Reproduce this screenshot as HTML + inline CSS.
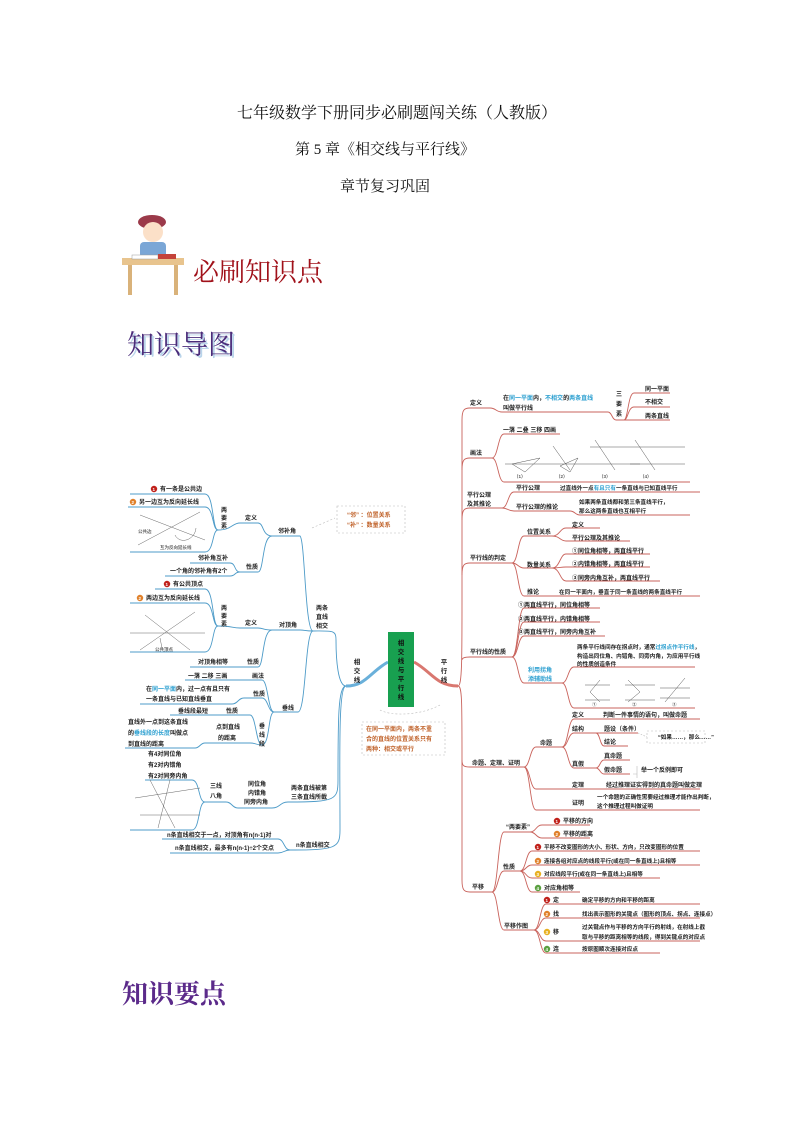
<!DOCTYPE html>
<html><head><meta charset="utf-8">
<style>
html,body{margin:0;padding:0;background:#fff;}
body{width:794px;height:1123px;position:relative;overflow:hidden;font-family:"Liberation Serif","Noto Serif CJK SC","Noto Sans CJK SC",serif;}
.t{position:absolute;left:0;width:794px;text-align:center;color:#111;}
svg text{font-family:"Liberation Sans","Noto Sans CJK SC",sans-serif;}
.m text{font-weight:bold;}
</style></head><body>
<div class="t" style="top:100px;font-size:16px;">七年级数学下册同步必刷题闯关练（人教版）</div>
<div class="t" style="top:138px;font-size:15px;left:-12px;">第 5 章《相交线与平行线》</div>
<div class="t" style="top:175px;font-size:15px;left:-12px;">章节复习巩固</div>

<svg width="794" height="1123" style="position:absolute;left:0;top:0" xmlns="http://www.w3.org/2000/svg">
<g>
<ellipse cx="152" cy="222" rx="14" ry="7" fill="#9b3a4a"/>
<circle cx="153" cy="232" r="10" fill="#fbe0c8"/>
<rect x="140" y="242" width="26" height="16" rx="4" fill="#7aa6d6"/>
<rect x="122" y="258" width="62" height="7" fill="#e8c48e"/>
<rect x="128" y="265" width="4" height="30" fill="#d9b27a"/>
<rect x="174" y="265" width="4" height="30" fill="#d9b27a"/>
<rect x="132" y="255" width="26" height="4" fill="#fff" stroke="#999" stroke-width=".5"/>
<rect x="158" y="254" width="18" height="5" fill="#c4433a"/>
</g>
<text x="193" y="281" font-size="26" fill="#a0111a" style="font-family:'Noto Serif CJK SC',serif">必刷知识点</text>
<text x="129" y="356" font-size="27" fill="#b9d4ea" style="font-family:'Noto Serif CJK SC',serif">知识导图</text>
<text x="127" y="354" font-size="27" fill="#4a2c7a" style="font-family:'Noto Serif CJK SC',serif">知识导图</text>
<text x="122" y="1003" font-size="26" fill="#5b2a8a" font-weight="bold" style="font-family:'Noto Serif CJK SC',serif">知识要点</text>

<g class="m">
<path d="M388 662 C370 672 366 686 346 686" stroke="#6ab0da" stroke-width="3" fill="none"/>
<path d="M414 662 C432 672 436 686 458 686" stroke="#d9776f" stroke-width="3" fill="none"/>
<rect x="388" y="632" width="26" height="75" fill="#18a050"/>
<g font-size="6.5" fill="#111" text-anchor="middle">
<text x="401" y="645">相</text><text x="401" y="654">交</text><text x="401" y="663">线</text><text x="401" y="672">与</text><text x="401" y="681">平</text><text x="401" y="690">行</text><text x="401" y="699">线</text>
</g>
<g font-size="6.5" fill="#222" text-anchor="middle">
<text x="357" y="664">相</text><text x="357" y="673">交</text><text x="357" y="682">线</text>
<text x="444" y="664">平</text><text x="444" y="673">行</text><text x="444" y="682">线</text>
</g>
<rect x="337" y="506" width="68" height="27" fill="none" stroke="#bbb" stroke-dasharray="2,2" stroke-width=".6"/>
<g font-size="6" fill="#c0622a"><text x="347" y="517">“邻” ：位置关系</text><text x="347" y="527">“补” ：数量关系</text></g>
<path d="M312 528 L335 518" stroke="#bbb" stroke-dasharray="2,2" stroke-width=".6" fill="none"/>
<rect x="362" y="722" width="83" height="33" fill="none" stroke="#bbb" stroke-dasharray="2,2" stroke-width=".6"/>
<g font-size="6" fill="#c0622a"><text x="366" y="731">在同一平面内，两条不重</text><text x="366" y="741">合的直线的位置关系只有</text><text x="366" y="751">两种：相交或平行</text></g>
<path d="M380 710 C390 716 420 716 440 705" stroke="#bbb" stroke-dasharray="2,2" stroke-width=".6" fill="none"/>

<g stroke="#4d9bc8" stroke-width="0.9" fill="none">
<path d="M346 686 C338 686 336 660 336 640 C336 630 333 631 313 631"/>
<path d="M346 686 C338 686 338 720 338 780 C338 800 336 802 288 802"/>
<path d="M346 686 C338 686 340 760 340 830 C340 848 336 850 290 850"/>
<path d="M313 631 C305 631 305 540 300 536 L272 536"/>
<path d="M313 631 C305 631 305 630 300 630 L272 630"/>
<path d="M313 631 C305 631 306 712 298 712 L274 712"/>
<path d="M272 536 C262 536 264 523 258 523 L240 523"/>
<path d="M272 536 C262 536 264 572 258 572 L240 572"/>
<path d="M240 523 C232 523 232 530 218 530"/>
<path d="M218 530 C212 530 214 494 205 494 L130 494"/>
<path d="M218 530 C212 530 214 507 205 507 L128 507"/>
<path d="M218 530 C212 530 214 552 205 552 L130 552"/>
<path d="M240 572 C234 572 236 563 230 563 L190 563"/>
<path d="M240 572 C234 572 236 576 230 576 L165 576"/>
<path d="M272 630 C262 630 264 628 258 628 L240 628"/>
<path d="M272 630 C262 630 264 667 258 667 L190 667"/>
<path d="M240 628 C232 628 232 626 218 626"/>
<path d="M218 626 C212 626 214 589 205 589 L155 589"/>
<path d="M218 626 C212 626 214 603 205 603 L130 603"/>
<path d="M218 626 C212 626 214 652 205 652 L130 652"/>
<path d="M274 712 C268 712 268 680 262 680 L185 680"/>
<path d="M274 712 C268 712 268 698 262 698 L244 698 C238 698 238 704 232 704 L140 704"/>
<path d="M274 712 C268 712 270 745 262 745"/>
<path d="M262 745 C256 745 256 715 250 715 L170 715"/>
<path d="M262 745 C256 745 256 743 250 743 L205 743 C200 743 200 748 195 748 L125 748"/>
<path d="M288 802 C280 802 280 808 272 808 L238 808"/>
<path d="M238 808 C232 808 232 802 226 802 L205 802"/>
<path d="M205 802 C198 802 200 780 192 780 L145 780"/>
<path d="M205 802 C198 802 200 830 192 830 L130 830"/>
<path d="M290 850 C284 850 284 839 278 839 L162 839"/>
<path d="M290 850 C284 850 284 853 278 853 L170 853"/>
</g>
<g font-size="6" fill="#222">
<circle cx="154" cy="489" r="3.2" fill="#c0201a"/><text x="152.5" y="491" fill="#fff" font-size="4.5">1</text>
<text x="160" y="491">有一条是公共边</text>
<circle cx="133" cy="502" r="3.2" fill="#e0802a"/><text x="131.5" y="504" fill="#fff" font-size="4.5">2</text>
<text x="139" y="504">另一边互为反向延长线</text>
<text x="221" y="512">两</text><text x="221" y="520">要</text><text x="221" y="528">素</text>
<text x="245" y="520">定义</text>
<text x="278" y="533">邻补角</text>
<text x="198" y="560">邻补角互补</text><text x="246" y="569">性质</text>
<text x="170" y="573">一个角的邻补角有2个</text>
<circle cx="167" cy="584" r="3.2" fill="#c0201a"/><text x="165.5" y="586" fill="#fff" font-size="4.5">1</text>
<text x="173" y="586">有公共顶点</text>
<circle cx="140" cy="598" r="3.2" fill="#e0802a"/><text x="138.5" y="600" fill="#fff" font-size="4.5">2</text>
<text x="146" y="600">两边互为反向延长线</text>
<text x="221" y="610">两</text><text x="221" y="618">要</text><text x="221" y="626">素</text>
<text x="245" y="625">定义</text>
<text x="279" y="627">对顶角</text>
<text x="316" y="610">两条</text><text x="316" y="619">直线</text><text x="316" y="628">相交</text>
<text x="198" y="664">对顶角相等</text><text x="247" y="664">性质</text>
<text x="188" y="678">一落  二移  三画</text><text x="252" y="678">画法</text>
<text x="146" y="691">在<tspan fill="#2b9fd0">同一平面</tspan>内，过一点有且只有</text>
<text x="146" y="701">一条直线与已知直线垂直</text><text x="253" y="696">性质</text>
<text x="178" y="713">垂线段最短</text><text x="226" y="713">性质</text>
<text x="282" y="710">垂线</text>
<text x="259" y="728">垂</text><text x="259" y="737">线</text><text x="259" y="746">段</text>
<text x="128" y="724">直线外一点到这条直线</text>
<text x="128" y="735">的<tspan fill="#2b9fd0">垂线段的长度</tspan>叫做点</text>
<text x="128" y="746">到直线的距离</text>
<text x="216" y="729">点到直线</text><text x="218" y="740">的距离</text>
<text x="148" y="756">有4对同位角</text><text x="148" y="767">有2对内错角</text><text x="148" y="778">有2对同旁内角</text>
<text x="210" y="788">三线</text><text x="210" y="798">八角</text>
<text x="248" y="786">同位角</text><text x="248" y="795">内错角</text><text x="244" y="804">同旁内角</text>
<text x="291" y="790">两条直线被第</text><text x="291" y="799">三条直线所截</text>
<text x="167" y="837">n条直线相交于一点，对顶角有n(n-1)对</text>
<text x="175" y="850">n条直线相交，最多有n(n-1)÷2个交点</text>
<text x="296" y="847">n条直线相交</text>
</g>
<g stroke="#666" stroke-width=".5" fill="none">
<path d="M140 515 L205 540"/><path d="M138 545 L200 512"/><path d="M175 535 C180 545 195 540 196 528"/>
<path d="M130 633 L205 633"/><path d="M140 650 L195 612"/><path d="M145 615 L190 650"/><path d="M160 638 L162 648"/>
<path d="M135 798 L200 788"/><path d="M140 815 L200 815"/><path d="M150 780 L175 828"/><path d="M170 780 L158 828"/>
</g>
<g font-size="4.5" fill="#666"><text x="138" y="533">公共边</text><text x="160" y="549">互为反向延长线</text><text x="155" y="651">公共顶点</text></g>

<g stroke="#c9635c" stroke-width="0.9" fill="none">
<path d="M458 686 C462 686 462 660 462 600 L462 420 C462 410 464 408 470 408 L490 408"/>
<path d="M462 470 C462 460 464 458 470 458 L492 458"/>
<path d="M462 520 C462 510 464 508 470 508 L502 508"/>
<path d="M462 575 C462 565 464 563 470 563 L512 563"/>
<path d="M462 660 C462 658 464 657 470 657 L512 657"/>
<path d="M458 686 C462 686 462 700 462 760 C462 766 464 767 470 767 L524 767"/>
<path d="M462 760 L462 880 C462 890 464 892 470 892 L492 892"/>
<path d="M490 408 C496 408 496 412 502 412 L608 412 C612 412 612 420 616 420 L624 420"/>
<path d="M624 420 C628 420 628 393 634 393 L670 393"/>
<path d="M624 420 C628 420 628 407 634 407 L670 407"/>
<path d="M624 420 C628 420 628 420 634 420 L670 420"/>
<path d="M492 458 C498 458 498 434 504 434 L560 434"/>
<path d="M492 458 C498 458 498 482 504 482 L690 482"/>
<path d="M502 508 C508 508 508 492 514 492 L700 492"/>
<path d="M502 508 C508 508 508 511 514 511 L570 511 C575 511 575 515 580 515 L690 515"/>
<path d="M512 563 C518 563 518 536 524 536 L552 536"/>
<path d="M552 536 C560 536 560 528 566 528 L600 528"/>
<path d="M552 536 C560 536 560 541 566 541 L630 541"/>
<path d="M512 563 C518 563 518 568 524 568 L552 568"/>
<path d="M552 568 C560 568 560 554 566 554 L650 554"/>
<path d="M552 568 C560 568 560 567 566 567 L650 567"/>
<path d="M552 568 C560 568 560 581 566 581 L660 581"/>
<path d="M512 563 C518 563 518 596 524 596 L700 596"/>
<path d="M512 657 C518 657 518 608 524 608 L600 608"/>
<path d="M512 657 C518 657 518 622 524 622 L600 622"/>
<path d="M512 657 C518 657 518 636 524 636 L605 636"/>
<path d="M512 657 C518 657 518 683 524 683 L562 683"/>
<path d="M562 683 C568 683 568 667 574 667 L695 667"/>
<path d="M562 683 C568 683 568 708 574 708 L695 708"/>
<path d="M524 767 C530 767 530 747 536 747 L562 747"/>
<path d="M562 747 C568 747 568 719 574 719 L700 719"/>
<path d="M562 747 C568 747 568 733 574 733 L596 733"/>
<path d="M596 733 C600 733 600 733 604 733 L638 733"/>
<path d="M596 733 C600 733 600 746 604 746 L628 746"/>
<path d="M562 747 C568 747 568 768 574 768 L596 768"/>
<path d="M596 768 C600 768 600 760 604 760 L630 760"/>
<path d="M596 768 C600 768 600 774 604 774 L630 774"/>
<path d="M524 767 C530 767 530 789 536 789 L700 789"/>
<path d="M524 767 C530 767 530 810 536 810 L700 810"/>
<path d="M492 892 C498 892 498 832 504 832 L530 832"/>
<path d="M530 832 C536 832 536 825 542 825 L590 825"/>
<path d="M530 832 C536 832 536 838 542 838 L590 838"/>
<path d="M492 892 C498 892 498 871 504 871 L520 871"/>
<path d="M520 871 C526 871 526 851 532 851 L700 851"/>
<path d="M520 871 C526 871 526 865 532 865 L700 865"/>
<path d="M520 871 C526 871 526 878 532 878 L660 878"/>
<path d="M520 871 C526 871 526 892 532 892 L580 892"/>
<path d="M492 892 C498 892 498 930 504 930 L534 930"/>
<path d="M534 930 C540 930 540 904 546 904 L700 904"/>
<path d="M534 930 C540 930 540 918 546 918 L700 918"/>
<path d="M534 930 C540 930 540 941 546 941 L700 941"/>
<path d="M534 930 C540 930 540 953 546 953 L660 953"/>
</g>
<g font-size="6" fill="#222">
<text x="470" y="405">定义</text>
<text x="503" y="400">在<tspan fill="#2b9fd0">同一平面</tspan>内，<tspan fill="#2b9fd0">不相交</tspan>的<tspan fill="#2b9fd0">两条直线</tspan></text>
<text x="503" y="410">叫做平行线</text>
<text x="616" y="396">三</text><text x="616" y="406">要</text><text x="616" y="416">素</text>
<text x="645" y="391">同一平面</text><text x="645" y="404">不相交</text><text x="645" y="418">两条直线</text>
<text x="503" y="432">一落  二叠  三移  四画</text>
<text x="470" y="455">画法</text>
<g font-size="4.5" fill="#555" font-weight="normal"><text x="514" y="478">（1）</text><text x="556" y="478">（2）</text><text x="599" y="478">（3）</text><text x="640" y="478">（4）</text></g>
<text x="467" y="497">平行公理</text><text x="467" y="506">及其推论</text>
<text x="516" y="490">平行公理</text>
<text x="560" y="490" font-size="5.6">过直线外一点<tspan fill="#2b9fd0">有且只有</tspan>一条直线与已知直线平行</text>
<text x="516" y="509">平行公理的推论</text>
<text x="579" y="504" font-size="5.6">如果两条直线都和第三条直线平行，</text>
<text x="579" y="513" font-size="5.6">那么这两条直线也互相平行</text>
<text x="527" y="534">位置关系</text>
<text x="572" y="527">定义</text><text x="572" y="540">平行公理及其推论</text>
<text x="470" y="560">平行线的判定</text>
<text x="527" y="567">数量关系</text>
<text x="572" y="553">①同位角相等，两直线平行</text>
<text x="572" y="566">②内错角相等，两直线平行</text>
<text x="572" y="580">③同旁内角互补，两直线平行</text>
<text x="527" y="594">推论</text>
<text x="559" y="594" font-size="5.6">在同一平面内，垂直于同一条直线的两条直线平行</text>
<text x="518" y="607">①两直线平行，同位角相等</text>
<text x="518" y="621">②两直线平行，内错角相等</text>
<text x="518" y="634">③两直线平行，同旁内角互补</text>
<text x="470" y="654">平行线的性质</text>
<text x="577" y="649" font-size="5.6">两条平行线间存在拐点时，通常<tspan fill="#2b9fd0">过拐点作平行线</tspan>，</text>
<text x="577" y="658" font-size="5.6">构造出同位角、内错角、同旁内角，为应用平行线</text>
<text x="577" y="666" font-size="5.6">的性质创造条件</text>
<text x="528" y="672" fill="#2b9fd0">利用拐角</text><text x="528" y="681" fill="#2b9fd0">添辅助线</text>
<g font-size="4.5" fill="#555" font-weight="normal"><text x="592" y="706">①</text><text x="632" y="706">②</text><text x="672" y="706">③</text></g>
<text x="472" y="765">命题、定理、证明</text>
<text x="572" y="717">定义</text><text x="603" y="717">判断一件事情的语句，叫做命题</text>
<text x="540" y="745">命题</text>
<text x="572" y="731">结构</text><text x="604" y="731">题设（条件）</text><text x="604" y="744">结论</text>
<text x="572" y="766">真假</text><text x="604" y="758">真命题</text><text x="604" y="772">假命题</text>
<text x="641" y="772">举一个反例即可</text>
<text x="572" y="787">定理</text><text x="606" y="787">经过推理证实得到的真命题叫做定理</text>
<text x="572" y="805">证明</text>
<text x="597" y="799" font-size="5.6">一个命题的正确性需要经过推理才能作出判断，</text>
<text x="597" y="808" font-size="5.6">这个推理过程叫做证明</text>
<text x="506" y="829">“两要素”</text>
<circle cx="557" cy="821" r="3.2" fill="#c0201a"/><text x="555.5" y="823" fill="#fff" font-size="4.5">1</text><text x="563" y="823">平移的方向</text>
<circle cx="557" cy="834" r="3.2" fill="#e0802a"/><text x="555.5" y="836" fill="#fff" font-size="4.5">2</text><text x="563" y="836">平移的距离</text>
<text x="503" y="869">性质</text>
<circle cx="538" cy="847" r="3.2" fill="#c0201a"/><text x="536.5" y="849" fill="#fff" font-size="4.5">1</text><text x="544" y="849" font-size="5.6">平移不改变图形的大小、形状、方向，只改变图形的位置</text>
<circle cx="538" cy="861" r="3.2" fill="#e0802a"/><text x="536.5" y="863" fill="#fff" font-size="4.5">2</text><text x="544" y="863" font-size="5.6">连接各组对应点的线段平行(或在同一条直线上)且相等</text>
<circle cx="538" cy="874" r="3.2" fill="#e8b020"/><text x="536.5" y="876" fill="#fff" font-size="4.5">3</text><text x="544" y="876" font-size="5.6">对应线段平行(或在同一条直线上)且相等</text>
<circle cx="538" cy="888" r="3.2" fill="#5aa040"/><text x="536.5" y="890" fill="#fff" font-size="4.5">4</text><text x="544" y="890">对应角相等</text>
<text x="472" y="889">平移</text>
<text x="504" y="928">平移作图</text>
<circle cx="547" cy="900" r="3.2" fill="#c0201a"/><text x="545.5" y="902" fill="#fff" font-size="4.5">1</text><text x="553" y="902">定</text>
<text x="582" y="902" font-size="5.6">确定平移的方向和平移的距离</text>
<circle cx="547" cy="914" r="3.2" fill="#e0802a"/><text x="545.5" y="916" fill="#fff" font-size="4.5">2</text><text x="553" y="916">找</text>
<text x="582" y="916" font-size="5.6">找出表示图形的关键点（图形的顶点、拐点、连接点）</text>
<circle cx="547" cy="932" r="3.2" fill="#e8b020"/><text x="545.5" y="934" fill="#fff" font-size="4.5">3</text><text x="553" y="934">移</text>
<text x="582" y="929" font-size="5.6">过关键点作与平移的方向平行的射线，在射线上截</text>
<text x="582" y="939" font-size="5.6">取与平移的距离相等的线段，得到关键点的对应点</text>
<circle cx="547" cy="949" r="3.2" fill="#5aa040"/><text x="545.5" y="951" fill="#fff" font-size="4.5">4</text><text x="553" y="951">连</text>
<text x="582" y="951" font-size="5.6">按原图顺次连接对应点</text>
</g>
<rect x="647" y="731" width="58" height="12" fill="none" stroke="#bbb" stroke-dasharray="2,2" stroke-width=".6"/>
<text x="658" y="739" font-size="5.6" fill="#222">“如果……，那么……”</text>
<path d="M638 733 L647 737" stroke="#bbb" stroke-dasharray="1.5,1.5" stroke-width=".6"/>
<path d="M633 774 L637 774 M637 766 L637 778" stroke="#bbb" stroke-width=".6"/>
<g stroke="#555" stroke-width=".5" fill="none">
<path d="M505 464 L545 464"/><path d="M512 464 L540 458 L525 472 Z"/>
<path d="M545 464 L590 464"/><path d="M553 446 L570 470"/><path d="M560 466 L578 458 L570 472 Z"/>
<path d="M590 464 L640 464"/><path d="M590 447 L630 447"/><path d="M595 440 L615 470"/>
<path d="M630 464 L685 464"/><path d="M630 447 L685 447"/><path d="M635 440 L655 470"/>
<path d="M585 685 L610 685 M585 700 L610 700 M590 692 L600 680 M590 692 L600 702"/>
<path d="M625 685 L655 685 M625 700 L655 700 M640 692 L628 680 M640 692 L628 702"/>
<path d="M660 688 L690 688 M660 698 L690 698 M665 702 L685 678"/>
</g>
</g>
</svg>
</body></html>
